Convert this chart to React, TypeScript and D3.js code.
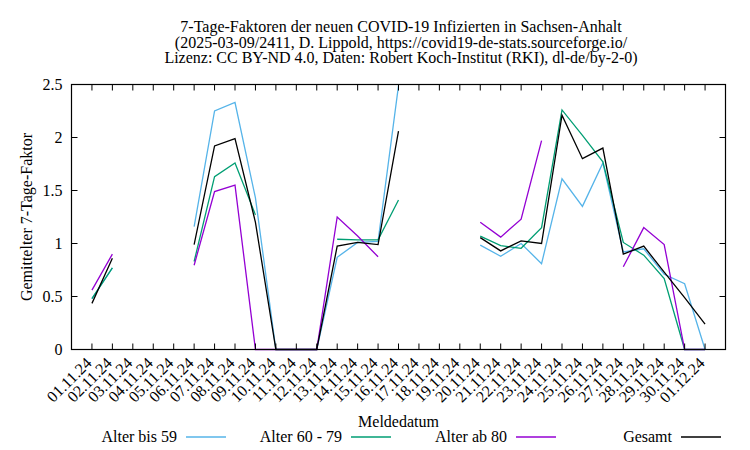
import React from "react";
import * as d3 from "d3";

const dates = [
  "01.11.24","02.11.24","03.11.24","04.11.24","05.11.24","06.11.24","07.11.24","08.11.24",
  "09.11.24","10.11.24","11.11.24","12.11.24","13.11.24","14.11.24","15.11.24","16.11.24",
  "17.11.24","18.11.24","19.11.24","20.11.24","21.11.24","22.11.24","23.11.24","24.11.24",
  "25.11.24","26.11.24","27.11.24","28.11.24","29.11.24","30.11.24","01.12.24",
];

const alterBis59: (number | null)[] = [
  0.48, 0.77, null, null, null, 1.16, 2.25, 2.33, 1.43, 0, 0, 0, 0.87, 1.01, 1.02, 2.49,
  null, null, null, 0.985, 0.88, 1.0, 0.81, 1.61, 1.35, 1.76, 0.92, 0.95, 0.71, 0.62, 0,
];
const alter60bis79: (number | null)[] = [
  0.48, 0.77, null, null, null, 0.83, 1.63, 1.76, 1.27, null, null, null, 1.04, 1.035, 1.035, 1.41,
  null, null, null, 1.07, 0.98, 0.955, 1.15, 2.26, 2.02, 1.77, 1.01, 0.89, 0.67, 0, 0,
];
const alterAb80: (number | null)[] = [
  0.56, 0.9, null, null, null, 0.795, 1.49, 1.55, 0, 0, 0, 0, 1.25, 1.07, 0.875, null,
  null, null, null, 1.2, 1.06, 1.23, 1.97, null, null, null, 0.78, 1.15, 0.99, 0, 0,
];
const gesamt: (number | null)[] = [
  0.435, 0.86, null, null, null, 0.99, 1.92, 1.99, 1.2, 0, 0, 0, 0.975, 1.01, 0.99, 2.06,
  null, null, null, 1.055, 0.93, 1.025, 1.0, 2.21, 1.8, 1.9, 0.9, 0.975, 0.73, 0.49, 0.24,
];

const yTicks = [0, 0.5, 1, 1.5, 2, 2.5];
const yTickLabels = ["0", "0.5", "1", "1.5", "2", "2.5"];

const titleLines = [
  "7-Tage-Faktoren der neuen COVID-19 Infizierten in Sachsen-Anhalt",
  "(2025-03-09/2411, D. Lippold, https://covid19-de-stats.sourceforge.io/",
  "Lizenz: CC BY-ND 4.0, Daten: Robert Koch-Institut (RKI), dl-de/by-2-0)",
];

const seriesNames = ["Alter bis 59", "Alter 60 - 79", "Alter ab 80", "Gesamt"];
const seriesColors = ["#56b4e9", "#009e73", "#9400d3", "#000000"];
const seriesData = [alterBis59, alter60bis79, alterAb80, gesamt];

const W = 750;
const H = 450;
const left = 71.5;
const right = 725.5;
const top = 84.5;
const bottom = 349.5;
const FONT = "'Liberation Serif', 'Times New Roman', serif";
const FS = 16;

export default function App() {
  const x = d3.scaleLinear().domain([-1, dates.length]).range([left, right]);
  const y = d3.scaleLinear().domain([0, 2.5]).range([bottom, top]);

  const line = d3
    .line<number | null>()
    .defined((d) => d !== null)
    .x((_, i) => x(i))
    .y((d) => y(d as number));

  const legendTextEnd = [177, 342, 507, 672];

  return (
    <svg
      width={W}
      height={H}
      style={{ position: "absolute", left: 0, top: 0, background: "#fff" }}
      fontFamily={FONT}
      fontSize={FS}
    >
      {titleLines.map((t, i) => (
        <text key={i} x={401} y={32 + i * 15.7} textAnchor="middle" fill="#000">
          {t}
        </text>
      ))}

      {/* series */}
      {seriesData.map((s, k) => (
        <path
          key={k}
          d={line(s) || ""}
          fill="none"
          stroke={seriesColors[k]}
          strokeWidth={1.3}
          strokeLinejoin="miter"
        />
      ))}

      {/* x ticks */}
      {dates.map((d, i) => (
        <g key={d}>
          <line x1={x(i)} x2={x(i)} y1={bottom} y2={bottom - 6} stroke="#000" />
          <line x1={x(i)} x2={x(i)} y1={top} y2={top + 6} stroke="#000" />
          <text
            transform={`translate(${x(i) - 2},${bottom + 12}) rotate(-45)`}
            textAnchor="end"
            dominantBaseline="middle"
            fill="#000"
          >
            {d}
          </text>
        </g>
      ))}

      {/* y ticks */}
      {yTicks.map((v, i) => (
        <g key={v}>
          <line x1={left} x2={left + 6} y1={y(v)} y2={y(v)} stroke="#000" />
          <line x1={right} x2={right - 6} y1={y(v)} y2={y(v)} stroke="#000" />
          <text x={left - 9} y={y(v) + 5} textAnchor="end" fill="#000">
            {yTickLabels[i]}
          </text>
        </g>
      ))}

      <rect
        x={left}
        y={top}
        width={right - left}
        height={bottom - top}
        fill="none"
        stroke="#000"
        strokeWidth={1.2}
      />

      <text
        transform={`translate(32,${(top + bottom) / 2}) rotate(-90)`}
        textAnchor="middle"
        fill="#000"
      >
        Gemittelter 7-Tage-Faktor
      </text>

      <text x={(left + right) / 2} y={427} textAnchor="middle" fill="#000">
        Meldedatum
      </text>

      {seriesNames.map((n, k) => (
        <g key={n}>
          <text x={legendTextEnd[k]} y={442} textAnchor="end" fill="#000">
            {n}
          </text>
          <line
            x1={legendTextEnd[k] + 9}
            x2={legendTextEnd[k] + 49}
            y1={437}
            y2={437}
            stroke={seriesColors[k]}
            strokeWidth={1.3}
          />
        </g>
      ))}
    </svg>
  );
}
